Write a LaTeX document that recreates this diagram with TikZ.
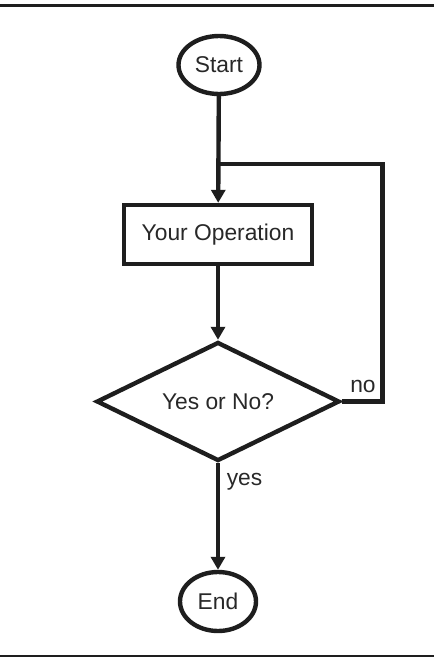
\documentclass[tikz,border=0pt]{standalone}
\usepackage{fontspec}
\setmainfont{Liberation Sans}
\usetikzlibrary{shapes.geometric,arrows.meta}
\definecolor{ink}{RGB}{30,30,30}
\definecolor{txt}{RGB}{40,40,40}
\begin{document}
\begin{tikzpicture}[x=1pt,y=-1pt,
  every node/.style={font=\fontsize{22.8}{27}\selectfont, text=txt},
  shapeline/.style={draw=ink, line width=4.4pt, line join=miter},
  terminal/.style={shapeline, ellipse, inner sep=0pt},
  process/.style={shapeline, rectangle, inner sep=0pt, minimum width=188pt, minimum height=59pt},
  decision/.style={shapeline, diamond, aspect=2, inner sep=0pt, minimum width=243pt, minimum height=119pt},
  conn/.style={draw=ink, line width=4.4pt, line join=miter},
  arr/.style={conn, -{Triangle[width=14pt,length=13pt]}},
  tag/.style={inner sep=0pt}]
  % page frame: heavy rule on top, thin rule at the bottom
  \useasboundingbox (0,0) rectangle (434,657);
  \fill[ink] (0,4) rectangle (434,7);
  \fill[ink] (0,655.2) rectangle (434,656.8);

  % flowchart nodes
  \node[terminal, minimum width=81pt, minimum height=58pt] (start) at (219,65) {Start};
  \node[process] (op) at (218,234.5) {Your Operation};
  \node[decision] (dec) at (218,401.5) {Yes or No?};
  \node[terminal, minimum width=76pt, minimum height=59pt] (end) at (218,601.5) {End};

  % loop-back points
  \coordinate (join) at (218,164);
  \coordinate (loopc) at (382.5,164);

  % connectors
  \draw[arr] (start) -- (op);
  \draw[arr] (op) -- (dec);
  \draw[arr] (dec) -- (end);
  \draw[conn] (dec.east) -| (loopc) -- (join);

  % branch labels
  \node[tag] (nolbl) at (363,386) {no};
  \node[tag] (yeslbl) at (244.5,482) {yes};
\end{tikzpicture}
\end{document}
